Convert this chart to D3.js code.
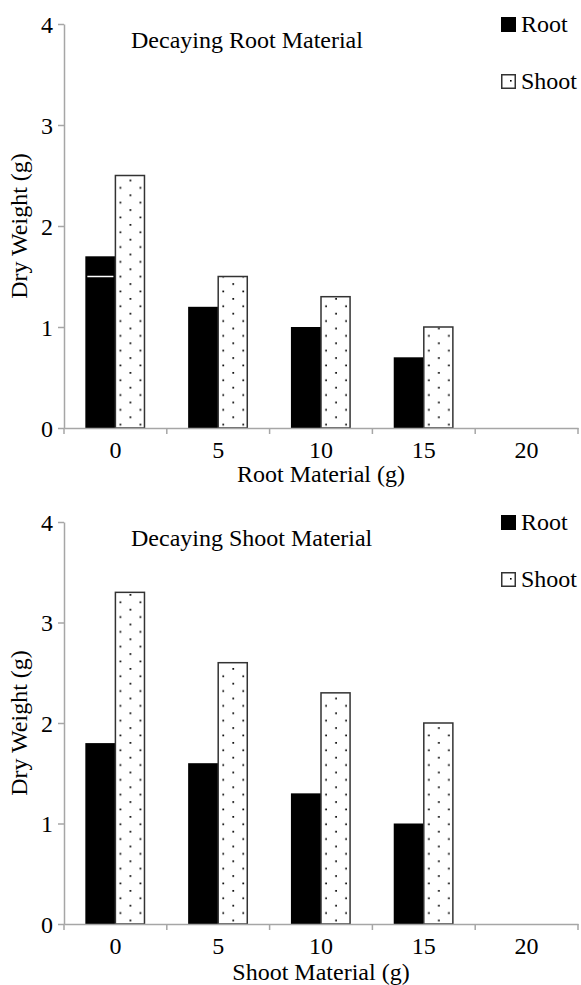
<!DOCTYPE html>
<html>
<head>
<meta charset="utf-8">
<script src="https://cdn.jsdelivr.net/npm/d3@7"></script>
<style>
  body { margin: 0; background: #fff; }
  svg text { font-family: "Liberation Serif", "Times New Roman", serif !important; fill: #000; }
</style>
</head>
<body>
<svg id="chart" width="581" height="985"></svg>
<script>
// Treatment levels (g of added material) and value ticks
const categories = ["0", "5", "10", "15", "20"];
const yTicks = [0, 1, 2, 3, 4];
const seriesNames = ["Root", "Shoot"];

// Decaying root material: dry weight (g)
const rootPanelRoot  = [1.7, 1.2, 1.0, 0.7, 0];
const rootPanelShoot = [2.5, 1.5, 1.3, 1.0, 0];
const rootPanelMark  = [1.5, null, null, null, null];

// Decaying shoot material: dry weight (g)
const shootPanelRoot  = [1.8, 1.6, 1.3, 1.0, 0];
const shootPanelShoot = [3.3, 2.6, 2.3, 2.0, 0];
const shootPanelMark  = [null, null, null, null, null];

const panels = [
  { title: "Decaying Root Material", xTitle: "Root Material (g)",
    root: rootPanelRoot, shoot: rootPanelShoot, mark: rootPanelMark,
    top: 24, bottom: 428, xTitleY: 482 },
  { title: "Decaying Shoot Material", xTitle: "Shoot Material (g)",
    root: shootPanelRoot, shoot: shootPanelShoot, mark: shootPanelMark,
    top: 522, bottom: 924, xTitleY: 980 }
];

const serif = '"Liberation Serif", "Times New Roman", serif';
const svg = d3.select("#chart").style("font-family", serif);
const left = 64, right = 578;
const axisColor = "#a6a6a6";
const fs = 24;

// dotted fill used for the Shoot series
const defs = svg.append("defs");
const pat = defs.append("pattern")
  .attr("id", "dots")
  .attr("patternUnits", "userSpaceOnUse")
  .attr("width", 20).attr("height", 14.8);
pat.append("rect").attr("width", 20).attr("height", 14.8).attr("fill", "#fff");
pat.append("rect").attr("x", 4.3).attr("y", 2).attr("width", 1.7).attr("height", 1.7).attr("fill", "#000");
pat.append("rect").attr("x", 14.3).attr("y", 9.4).attr("width", 1.7).attr("height", 1.7).attr("fill", "#000");

panels.forEach(p => {
  const g = svg.append("g");
  const y = d3.scaleLinear().domain([0, 4]).range([p.bottom, p.top]);
  const x0 = d3.scaleBand().domain(categories).range([left, right]);
  const groupW = x0.bandwidth() * 0.585;
  const x1 = d3.scaleBand().domain(seriesNames).range([0, groupW]);
  const off = (x0.bandwidth() - groupW) / 2;

  const rows = categories.map((c, i) => ({ c, Root: p.root[i], Shoot: p.shoot[i], mark: p.mark[i] }));

  // bars
  const grp = g.selectAll("g.cat").data(rows).join("g")
    .attr("transform", d => `translate(${x0(d.c) + off},0)`);

  grp.filter(d => d.Root > 0).append("rect")
    .attr("x", x1("Root"))
    .attr("y", d => y(d.Root))
    .attr("width", x1.bandwidth())
    .attr("height", d => y(0) - y(d.Root))
    .attr("fill", "#000");

  grp.filter(d => d.mark != null).append("line")
    .attr("x1", x1("Root") + 2)
    .attr("x2", x1("Root") + x1.bandwidth() - 2)
    .attr("y1", d => y(d.mark))
    .attr("y2", d => y(d.mark))
    .attr("stroke", "#fff").attr("stroke-width", 1.5);

  grp.filter(d => d.Shoot > 0).append("rect")
    .attr("x", x1("Shoot"))
    .attr("y", d => y(d.Shoot))
    .attr("width", x1.bandwidth() - 1)
    .attr("height", d => y(0) - y(d.Shoot))
    .attr("fill", "url(#dots)")
    .attr("stroke", "#333").attr("stroke-width", 1.5);

  // y axis
  const ya = g.append("g").attr("transform", `translate(${left},0)`)
    .call(d3.axisLeft(y).tickValues(yTicks).tickFormat(d3.format("d"))
      .tickSizeInner(6).tickSizeOuter(0).tickPadding(5));
  ya.attr("font-family", serif);
  ya.select(".domain").attr("stroke", axisColor).attr("stroke-width", 1.5);
  ya.selectAll(".tick line").attr("stroke", axisColor).attr("stroke-width", 1.5);
  ya.selectAll(".tick text").attr("font-size", fs).style("font-family", serif).attr("dy", "0.34em");

  // x axis: labels centred on each group, ticks on group boundaries
  const xa = g.append("g").attr("transform", `translate(0,${p.bottom})`)
    .call(d3.axisBottom(x0).tickSizeInner(0).tickSizeOuter(0).tickPadding(13));
  xa.attr("font-family", serif);
  xa.select(".domain").attr("stroke", axisColor).attr("stroke-width", 1.5);
  xa.selectAll(".tick text").attr("font-size", fs).style("font-family", serif);
  const bounds = categories.map(c => x0(c)).concat([x0.range()[1]]);
  xa.selectAll("line.bound").data(bounds).join("line").attr("class", "bound")
    .attr("x1", d => d).attr("x2", d => d).attr("y1", 0).attr("y2", 6)
    .attr("stroke", axisColor).attr("stroke-width", 1.5);

  // titles
  g.append("text").attr("x", 131).attr("y", p.top + 24)
    .attr("font-size", fs).style("font-family", serif).text(p.title);
  g.append("text").attr("x", (left + right) / 2).attr("y", p.xTitleY)
    .attr("text-anchor", "middle").attr("font-size", fs).style("font-family", serif).text(p.xTitle);
  g.append("text")
    .attr("transform", `translate(27,${(p.top + p.bottom) / 2}) rotate(-90)`)
    .attr("text-anchor", "middle").attr("font-size", fs).style("font-family", serif).text("Dry Weight (g)");

  // legend
  const lg = g.append("g").attr("transform", `translate(501,${p.top - 7})`);
  lg.append("rect").attr("width", 15).attr("height", 15).attr("fill", "#000");
  lg.append("text").attr("x", 20).attr("y", 15).attr("font-size", fs).style("font-family", serif).text("Root");
  const lg2 = g.append("g").attr("transform", `translate(501,${p.top + 50})`);
  lg2.append("rect").attr("x", 0.75).attr("y", 0.75).attr("width", 13.5).attr("height", 13.5)
    .attr("fill", "#fff").attr("stroke", "#333").attr("stroke-width", 1.5);
  lg2.append("rect").attr("x", 9).attr("y", 6).attr("width", 1.6).attr("height", 1.6).attr("fill", "#000");
  lg2.append("text").attr("x", 20).attr("y", 15).attr("font-size", fs).style("font-family", serif).text("Shoot");
});
</script>
</body>
</html>
